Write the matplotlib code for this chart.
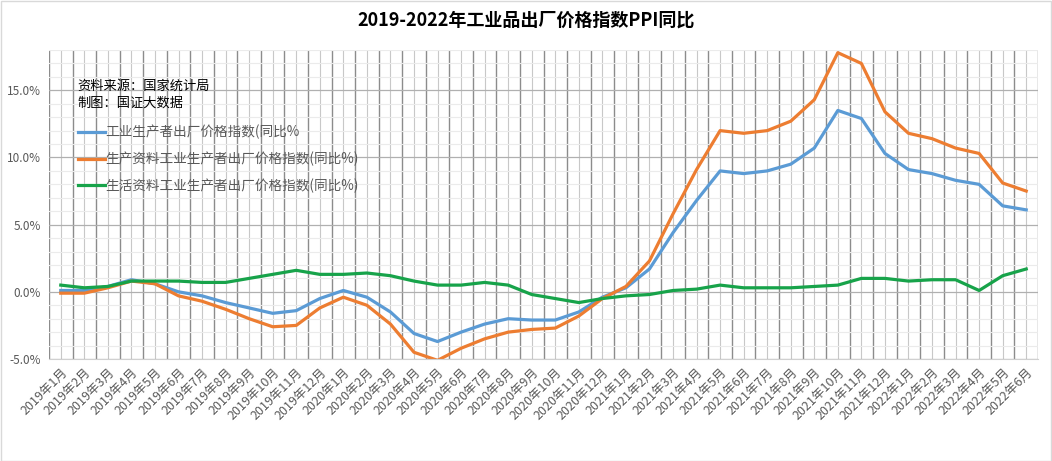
import numpy as np
import matplotlib
matplotlib.use("Agg")
import matplotlib.pyplot as plt
from matplotlib.ticker import FuncFormatter, MultipleLocator

plt.rcParams['font.family'] = ['Noto Sans CJK SC', 'DejaVu Sans']

months = [f"{y}年{m}月" for y in range(2019, 2023) for m in range(1, 13)][:42]

ppi_all = [0.1, 0.1, 0.4, 0.9, 0.6, 0.0, -0.3, -0.8, -1.2, -1.6, -1.4, -0.5,
           0.1, -0.4, -1.5, -3.1, -3.7, -3.0, -2.4, -2.0, -2.1, -2.1, -1.5, -0.4,
           0.3, 1.7, 4.4, 6.8, 9.0, 8.8, 9.0, 9.5, 10.7, 13.5, 12.9, 10.3,
           9.1, 8.8, 8.3, 8.0, 6.4, 6.1]
ppi_prod = [-0.1, -0.1, 0.3, 0.8, 0.6, -0.3, -0.7, -1.3, -2.0, -2.6, -2.5, -1.2,
            -0.4, -1.0, -2.4, -4.5, -5.1, -4.2, -3.5, -3.0, -2.8, -2.7, -1.8, -0.5,
            0.4, 2.3, 5.8, 9.1, 12.0, 11.8, 12.0, 12.7, 14.3, 17.8, 17.0, 13.4,
            11.8, 11.4, 10.7, 10.3, 8.1, 7.5]
ppi_cons = [0.5, 0.3, 0.4, 0.8, 0.8, 0.8, 0.7, 0.7, 1.0, 1.3, 1.6, 1.3,
            1.3, 1.4, 1.2, 0.8, 0.5, 0.5, 0.7, 0.5, -0.2, -0.5, -0.8, -0.5,
            -0.3, -0.2, 0.1, 0.2, 0.5, 0.3, 0.3, 0.3, 0.4, 0.5, 1.0, 1.0,
            0.8, 0.9, 0.9, 0.1, 1.2, 1.7]

labels = ['工业生产者出厂价格指数(同比%',
          '生产资料工业生产者出厂价格指数(同比%)',
          '生活资料工业生产者出厂价格指数(同比%)']
colors = ['#5B9BD5', '#ED7D31', '#17A34A']

fig = plt.figure(figsize=(10.52, 4.61), dpi=100)
ax = fig.add_axes([49 / 1052, 1 - 359 / 461, 989 / 1052, 309 / 461])

x = np.arange(len(months))
for vals, lab, c in zip([ppi_all, ppi_prod, ppi_cons], labels, colors):
    ax.plot(x, vals, color=c, lw=2.3, label=lab, solid_joinstyle='round')

ax.set_xlim(-0.5, len(months) - 0.5)
ax.set_ylim(-5, 18)

# category boundaries (dark) and centres (light)
ax.set_xticks(x)
ax.set_xticklabels(months, rotation=45, ha='right', rotation_mode='anchor',
                   fontsize=9, color='#595959')
ax.set_xticks(np.arange(-0.5, len(months)), minor=True)
ax.grid(True, axis='x', which='major', color='#c8c8c8', lw=0.8)
ax.grid(True, axis='x', which='minor', color='#8c8c8c', lw=1.0)

ax.yaxis.set_major_locator(MultipleLocator(5))
ax.yaxis.set_minor_locator(MultipleLocator(1))
ax.yaxis.set_major_formatter(FuncFormatter(lambda v, p: f"{v:.1f}%"))
ax.grid(True, axis='y', which='major', color='#b0b0b0', lw=0.9)
ax.grid(True, axis='y', which='minor', color='#ebebeb', lw=0.8)
ax.tick_params(axis='y', which='both', labelsize=8.5, labelcolor='#595959', length=0, pad=6)
ax.tick_params(axis='x', which='both', length=0, pad=5)
ax.set_axisbelow(True)

for s in ['top', 'right', 'left']:
    ax.spines[s].set_visible(False)
ax.spines['bottom'].set_color('#d0d0d0')

fig.text(0.5, 1 - 20 / 461, '2019-2022年工业品出厂价格指数PPI同比', fontsize=13,
         fontweight='bold', ha='center', va='center')

fig.text(77 / 1052, 1 - 86 / 461, '资料来源：国家统计局',
         fontsize=9.5, va='center', ha='left', color='black')
fig.text(77 / 1052, 1 - 103 / 461, '制图：国证大数据',
         fontsize=9.5, va='center', ha='left', color='black')

leg = ax.legend(loc='upper left', bbox_to_anchor=(0.024, 0.775), frameon=False,
                fontsize=9.8, handlelength=2.0, handletextpad=0.0,
                labelspacing=0.9, borderaxespad=0)
for t in leg.get_texts():
    t.set_color('#595959')

fig.patches.append(plt.Rectangle((0.001, 0.001), 0.998, 0.997, transform=fig.transFigure,
                                 fill=False, edgecolor='#d9d9d9', lw=1))

fig.savefig('out.png', dpi=100)
